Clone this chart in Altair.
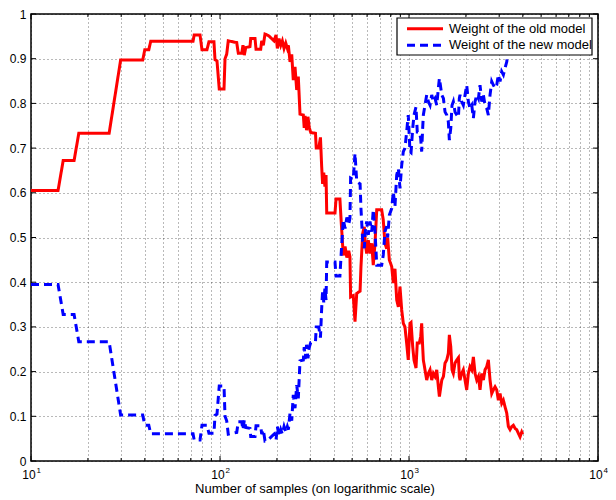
import altair as alt
import pandas as pd

# ---------------- data ----------------
samples = [10, 13.9, 14.8, 16.9, 17.9, 25.9, 29.8, 39, 40, 42,
           43, 72, 73, 78.4, 80.3, 85.3, 87.4, 92.9, 94.1, 96.4,
           99.1, 105, 106.3, 108.5, 110.6, 122.6, 125, 130.3, 132.3, 134.5,
           136.8, 144.1, 145.4, 153.2, 155.1, 164.2, 166.2, 169.5, 173, 180.1,
           187.7, 193.1, 197.9, 201.1, 205.3, 209.6, 213.7, 218.2, 222.8, 227.2,
           230, 234.7, 239.6, 244.2, 249.4, 254.6, 259.6, 265, 276, 279,
           282, 287, 292, 297, 302, 320, 323, 333, 340, 345,
           349, 354, 359, 364, 367, 406, 411, 431, 440, 449,
           459, 469, 480, 487, 491, 507, 518, 529, 551, 557,
           569, 580, 587, 597, 609, 622, 635, 647, 661, 675,
           717, 731, 746, 762, 771, 787, 810, 826, 843, 861,
           878, 896, 915, 933, 952, 972, 991, 1012, 1025, 1046,
           1063, 1089, 1106, 1134, 1153, 1167, 1181, 1191, 1215, 1241,
           1266, 1292, 1319, 1345, 1373, 1402, 1430, 1448, 1491, 1521,
           1551, 1584, 1615, 1635, 1663, 1689, 1716, 1752, 1789, 1826,
           1846, 1862, 1899, 1938, 1979, 2020, 2061, 2103, 2148, 2191,
           2236, 2283, 2330, 2376, 2426, 2475, 2525, 2578, 2630, 2684,
           2740, 2795, 2853, 2912, 2970, 3032, 3095, 3157, 3223, 3290,
           3356, 3425, 3497, 3567, 3640, 3716, 3790, 3869, 3950, 4000]

old_weight = [0.605, 0.605, 0.672, 0.672, 0.733, 0.733, 0.897, 0.897, 0.92, 0.92,
              0.939, 0.939, 0.953, 0.953, 0.92, 0.92, 0.938, 0.938, 0.898, 0.895,
              0.832, 0.832, 0.90, 0.91, 0.94, 0.936, 0.912, 0.912, 0.93, 0.908,
              0.925, 0.927, 0.945, 0.945, 0.921, 0.921, 0.94, 0.93, 0.955, 0.952,
              0.945, 0.94, 0.953, 0.923, 0.945, 0.93, 0.94, 0.923, 0.935, 0.923,
              0.93, 0.893, 0.91, 0.852, 0.882, 0.83, 0.86, 0.776, 0.774, 0.745,
              0.772, 0.74, 0.77, 0.745, 0.735, 0.733, 0.70, 0.70, 0.724, 0.66,
              0.62, 0.645, 0.614, 0.64, 0.555, 0.555, 0.586, 0.586, 0.52, 0.46,
              0.48, 0.455, 0.47, 0.457, 0.367, 0.37, 0.312, 0.375, 0.38, 0.435,
              0.509, 0.524, 0.487, 0.464, 0.494, 0.464, 0.487, 0.438, 0.487, 0.562,
              0.562, 0.539, 0.487, 0.475, 0.50, 0.45, 0.435, 0.398, 0.43, 0.36,
              0.345, 0.39, 0.338, 0.308, 0.30, 0.263, 0.226, 0.308, 0.31, 0.256,
              0.226, 0.208, 0.264, 0.264, 0.278, 0.308, 0.256, 0.226, 0.204, 0.181,
              0.196, 0.204, 0.181, 0.196, 0.189, 0.204, 0.166, 0.144, 0.181, 0.189,
              0.219, 0.226, 0.241, 0.282, 0.256, 0.204, 0.196, 0.219, 0.226, 0.231,
              0.189, 0.181, 0.196, 0.204, 0.181, 0.159, 0.196, 0.211, 0.204, 0.233,
              0.196, 0.181, 0.189, 0.159, 0.196, 0.181, 0.204, 0.211, 0.226, 0.181,
              0.151, 0.159, 0.166, 0.159, 0.136, 0.151, 0.129, 0.136, 0.121, 0.107,
              0.077, 0.070, 0.077, 0.080, 0.073, 0.070, 0.062, 0.054, 0.065, 0.060]

new_weight = [0.395, 0.395, 0.328, 0.328, 0.267, 0.267, 0.103, 0.103, 0.08, 0.08,
              0.061, 0.061, 0.047, 0.047, 0.08, 0.08, 0.062, 0.062, 0.102, 0.105,
              0.168, 0.168, 0.10, 0.09, 0.06, 0.064, 0.088, 0.088, 0.07, 0.092,
              0.075, 0.073, 0.055, 0.055, 0.079, 0.079, 0.06, 0.07, 0.045, 0.048,
              0.055, 0.06, 0.047, 0.077, 0.055, 0.07, 0.06, 0.077, 0.065, 0.077,
              0.07, 0.107, 0.09, 0.148, 0.118, 0.17, 0.14, 0.224, 0.226, 0.255,
              0.228, 0.26, 0.23, 0.255, 0.265, 0.267, 0.30, 0.30, 0.276, 0.34,
              0.38, 0.355, 0.386, 0.36, 0.445, 0.445, 0.414, 0.414, 0.48, 0.54,
              0.52, 0.545, 0.53, 0.543, 0.633, 0.63, 0.688, 0.625, 0.62, 0.565,
              0.491, 0.476, 0.513, 0.536, 0.506, 0.536, 0.513, 0.562, 0.513, 0.438,
              0.438, 0.461, 0.513, 0.525, 0.50, 0.55, 0.565, 0.602, 0.57, 0.64,
              0.655, 0.61, 0.662, 0.692, 0.70, 0.737, 0.774, 0.692, 0.69, 0.744,
              0.774, 0.792, 0.736, 0.736, 0.722, 0.692, 0.744, 0.774, 0.796, 0.819,
              0.804, 0.796, 0.819, 0.804, 0.811, 0.796, 0.834, 0.856, 0.819, 0.811,
              0.781, 0.774, 0.759, 0.718, 0.744, 0.796, 0.804, 0.781, 0.774, 0.769,
              0.811, 0.819, 0.804, 0.796, 0.819, 0.841, 0.804, 0.789, 0.796, 0.767,
              0.804, 0.819, 0.811, 0.841, 0.804, 0.819, 0.796, 0.789, 0.774, 0.819,
              0.849, 0.841, 0.834, 0.841, 0.864, 0.849, 0.871, 0.864, 0.879, 0.893,
              0.923, 0.930, 0.923, 0.920, 0.927, 0.930, 0.938, 0.946, 0.935, 0.940]

series_names = ["Weight of the old model", "Weight of the new model"]
series_colors = ["#ff0000", "#0000ff"]
series_dashes = [[1, 0], [8, 5]]

y_ticks = [0, 0.1, 0.2, 0.3, 0.4, 0.5, 0.6, 0.7, 0.8, 0.9, 1]
x_grid = [10, 20, 30, 40, 50, 60, 70, 80, 90,
          100, 200, 300, 400, 500, 600, 700, 800, 900,
          1000, 2000, 3000, 4000, 5000, 6000, 7000, 8000, 9000, 10000]
x_decades = [10, 100, 1000, 10000]
exponents = ["1", "2", "3", "4"]
x_title = "Number of samples (on logarithmic scale)"

# ---------------- build tables ----------------
n = len(samples)
df = pd.DataFrame({
    "x": samples + samples,
    "w": old_weight + new_weight,
    "series": [series_names[0]] * n + [series_names[1]] * n,
    "idx": list(range(n)) + list(range(n)),
})
exp_df = pd.DataFrame({"x": x_decades, "e": exponents})
major_df = pd.DataFrame({"x": x_decades})
minor_df = pd.DataFrame({"x": [v for v in x_grid if v not in x_decades]})
ytick_df = pd.DataFrame({"w": y_ticks})
one = pd.DataFrame({"k": [0]})

FONT = "Liberation Sans"
W, H = 567, 447

lines = alt.Chart(df).mark_line(strokeWidth=3, clip=True).encode(
    x=alt.X("x:Q",
            scale=alt.Scale(type="log", domain=[10, 10000], nice=False),
            axis=alt.Axis(values=x_grid, title=x_title,
                          labelExpr="indexof([10,100,1000,10000], datum.value) >= 0 ? '10' : ''",
                          labelOffset=-2.5, labelPadding=8, titlePadding=2,
                          labelFlush=False)),
    y=alt.Y("w:Q",
            scale=alt.Scale(domain=[0, 1], nice=False),
            axis=alt.Axis(values=y_ticks, title=None, labelPadding=5,
                          labelExpr="datum.value == 0 ? '0' : datum.value == 1 ? '1' : format(datum.value, '.1f')")),
    color=alt.Color("series:N", scale=alt.Scale(domain=series_names, range=series_colors), legend=None),
    strokeDash=alt.StrokeDash("series:N", scale=alt.Scale(domain=series_names, range=series_dashes), legend=None),
    order="idx:Q",
)

# exponents of the decade labels (10^1 ... 10^4)
exps = alt.Chart(exp_df).mark_text(
    align="left", baseline="alphabetic", fontSize=8, font=FONT, dx=5.5, color="#000"
).encode(x=alt.X("x:Q"), y=alt.value(H + 12), text="e:N")

# inward tick marks on all four sides (MATLAB style)
tk = dict(color="#000", strokeWidth=1)
ticks = [
    alt.Chart(major_df).mark_rule(**tk).encode(x="x:Q", y=alt.value(H - 5), y2=alt.value(H)),
    alt.Chart(major_df).mark_rule(**tk).encode(x="x:Q", y=alt.value(0), y2=alt.value(5)),
    alt.Chart(minor_df).mark_rule(**tk).encode(x="x:Q", y=alt.value(H - 3), y2=alt.value(H)),
    alt.Chart(minor_df).mark_rule(**tk).encode(x="x:Q", y=alt.value(0), y2=alt.value(3)),
    alt.Chart(ytick_df).mark_rule(**tk).encode(y="w:Q", x=alt.value(0), x2=alt.value(5)),
    alt.Chart(ytick_df).mark_rule(**tk).encode(y="w:Q", x=alt.value(W - 5), x2=alt.value(W)),
]

# ---- legend box drawn as a small layer group (layout only, top-right) ----
LX0, LX1, LY0, LY1 = 366, 561, 4, 41
leg_box = alt.Chart(one).mark_rect(fill="#fff", stroke="#000", strokeWidth=1.2).encode(
    x=alt.value(LX0), x2=alt.value(LX1), y=alt.value(LY0), y2=alt.value(LY1))
leg_layers = [leg_box]
for i, (name, col, dash) in enumerate(zip(series_names, series_colors, series_dashes)):
    yy = LY0 + 10.7 + i * 16.6
    leg_layers.append(alt.Chart(one).mark_rule(stroke=col, strokeWidth=3, strokeDash=dash).encode(
        x=alt.value(LX0 + 10), x2=alt.value(LX0 + 46), y=alt.value(yy)))
    leg_layers.append(alt.Chart(one).mark_text(
        align="left", baseline="middle", font=FONT, fontSize=13, color="#000", text=name
    ).encode(x=alt.value(LX0 + 52), y=alt.value(yy)))

chart = alt.layer(*ticks, lines, exps, *leg_layers).properties(
    width=W, height=H,
    padding={"left": 23, "top": 6, "right": 10, "bottom": 38},
    autosize=alt.AutoSizeParams(type="none"),
    background="#ffffff",
).configure_view(
    stroke="#000", strokeWidth=1.5
).configure_axis(
    domain=False, ticks=False, grid=True,
    gridColor="#000", gridOpacity=0.55, gridDash=[1, 3], gridWidth=1,
    labelFont=FONT, labelFontSize=12, labelColor="#000",
    titleFont=FONT, titleFontSize=13, titleColor="#000", titleFontWeight="normal",
)

chart.save("out.html", embed_options={"renderer": "svg", "actions": False})
